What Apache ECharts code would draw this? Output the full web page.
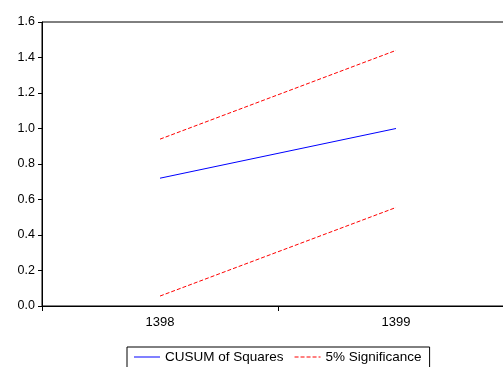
<!DOCTYPE html>
<html>
<head>
<meta charset="utf-8">
<script src="https://cdn.jsdelivr.net/npm/echarts@6/dist/echarts.min.js"></script>
<style>html,body{margin:0;padding:0;background:#fff;}#c{width:503px;height:367px;}</style>
</head>
<body>
<div id="c"></div>
<script>
const categories = ['1398', '1399'];
const cusum = [0.72, 1.0];
const upper = [0.94, 1.44];
const lower = [0.056, 0.555];
const yTicks = [0, 0.2, 0.4, 0.6, 0.8, 1.0, 1.2, 1.4, 1.6];

const chart = echarts.init(document.getElementById('c'), null, {renderer: 'canvas'});
const font = 'Liberation Sans, Arial, sans-serif';
chart.setOption({
  animation: false,
  backgroundColor: '#fff',
  grid: {left: 42, top: 22, width: 472, height: 284, outerBoundsMode: 'none', containLabel: false,
         show: true, borderColor: '#000', borderWidth: 1},
  legend: {
    left: 127, top: 347,
    borderColor: '#000', borderWidth: 1, padding: [3, 8, 6, 7],
    itemWidth: 26, itemHeight: 10, itemGap: 11,
    textStyle: {fontFamily: font, fontSize: 13.5, color: '#000'},
    data: [
      {name: 'CUSUM of Squares', icon: 'path://M0,0 L26,0 L26,1 L0,1 Z'},
      {name: '5% Significance', icon: 'path://M0,0 L4,0 L4,1 L0,1 Z M6,0 L10,0 L10,1 L6,1 Z M12,0 L16,0 L16,1 L12,1 Z M18,0 L22,0 L22,1 L18,1 Z M24,0 L26,0 L26,1 L24,1 Z'}
    ]
  },
  xAxis: {
    type: 'category', data: categories, boundaryGap: true,
    axisLine: {lineStyle: {color: '#000', width: 1}},
    axisTick: {show: true, inside: false, length: 5, lineStyle: {color: '#000'}},
    axisLabel: {color: '#000', fontFamily: font, fontSize: 13, margin: 10},
    splitLine: {show: false}
  },
  yAxis: {
    type: 'value', min: 0, max: 1.6, interval: 0.2,
    axisLine: {show: true, lineStyle: {color: '#000', width: 1}},
    axisTick: {show: true, length: 4, lineStyle: {color: '#000'}},
    axisLabel: {color: '#000', fontFamily: font, fontSize: 12.5, margin: 7,
      formatter: v => yTicks.includes(Math.round(v*10)/10) ? v.toFixed(1) : ''},
    splitLine: {show: false}
  },
  series: [
    {name: 'CUSUM of Squares', type: 'line', data: cusum, symbol: 'none',
     itemStyle: {color: '#0000ff'}, lineStyle: {color: '#0000ff', width: 1}},
    {name: '5% Significance', type: 'line', data: upper, symbol: 'none',
     itemStyle: {color: '#ff0000'}, lineStyle: {color: '#ff0000', width: 1, type: [4, 2]}},
    {name: '5% Significance', type: 'line', data: lower, symbol: 'none',
     itemStyle: {color: '#ff0000'}, lineStyle: {color: '#ff0000', width: 1, type: [4, 2]}}
  ]
});
</script>
</body>
</html>
